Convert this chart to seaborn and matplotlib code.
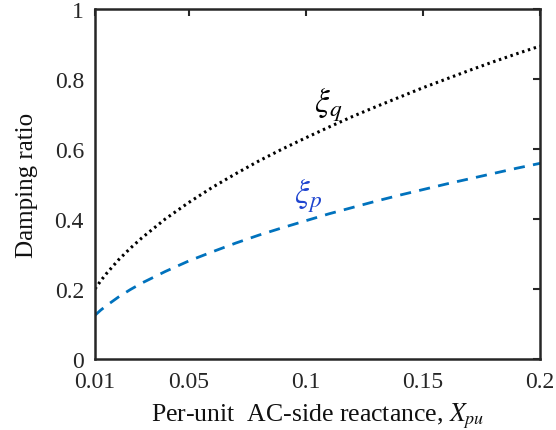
import numpy as np
import pandas as pd
import matplotlib
matplotlib.use("Agg")
import matplotlib.pyplot as plt
import seaborn as sns

x_pu = [0.01, 0.0125, 0.015, 0.02, 0.025, 0.03, 0.04, 0.05, 0.06, 0.07, 0.08,
        0.09, 0.10, 0.11, 0.12, 0.13, 0.14, 0.15, 0.16, 0.17, 0.18, 0.19, 0.20]
xi_q = [0.200, 0.224, 0.245, 0.283, 0.316, 0.346, 0.400, 0.447, 0.490, 0.529, 0.566,
        0.600, 0.632, 0.663, 0.693, 0.721, 0.748, 0.775, 0.800, 0.825, 0.849, 0.872, 0.894]
xi_p = [0.125, 0.140, 0.153, 0.177, 0.198, 0.217, 0.250, 0.280, 0.306, 0.331, 0.354,
        0.375, 0.395, 0.415, 0.433, 0.451, 0.468, 0.484, 0.500, 0.515, 0.530, 0.545, 0.559]
x_ticks = [0.01, 0.05, 0.1, 0.15, 0.2]
x_tick_labels = ["0.01", "0.05", "0.1", "0.15", "0.2"]
y_ticks = [0, 0.2, 0.4, 0.6, 0.8, 1]
y_tick_labels = ["0", "0.2", "0.4", "0.6", "0.8", "1"]

sns.set_style("white")
plt.rcParams["font.family"] = ["Liberation Serif", "DejaVu Serif"]
plt.rcParams["mathtext.fontset"] = "stix"

df = pd.DataFrame({"x": x_pu, "xi_q": xi_q, "xi_p": xi_p})

fig = plt.figure(figsize=(5.56, 4.31), dpi=100)
ax = fig.add_axes([95 / 556, 1 - 360 / 431, 445 / 556, 350 / 431])

sns.lineplot(data=df, x="x", y="xi_q", ax=ax, color="black", linewidth=2.2,
             linestyle=(0, (0.8, 1.2)))
sns.lineplot(data=df, x="x", y="xi_p", ax=ax, color="#0072BD", linewidth=2.0,
             linestyle=(0, (4, 3)))

ax.set_xlim(0.01, 0.2)
ax.set_ylim(0, 1)
ax.set_xticks(x_ticks)
ax.set_xticklabels(x_tick_labels)
ax.set_yticks(y_ticks)
ax.set_yticklabels(y_tick_labels)
ax.tick_params(direction="in", length=5, width=1.5, top=True, right=True,
               labelsize=17, colors="#262626")
ax.tick_params(axis="x", pad=9)
ax.tick_params(axis="y", pad=8)
for s in ax.spines.values():
    s.set_visible(True)
    s.set_linewidth(1.8)
    s.set_color("#262626")

ax.set_xlabel(r"Per-unit  AC-side reactance, $X_{pu}$", fontsize=18.5, color="#111111", labelpad=6)
ax.set_ylabel("Damping ratio", fontsize=18, color="#111111", labelpad=12)

ax.text(0.1095, 0.728, r"$\xi_q$", fontsize=24, color="black", ha="center", va="center")
ax.text(0.101, 0.468, r"$\xi_p$", fontsize=24, color="#1f45d0", ha="center", va="center")

fig.savefig("out.png", dpi=100)
